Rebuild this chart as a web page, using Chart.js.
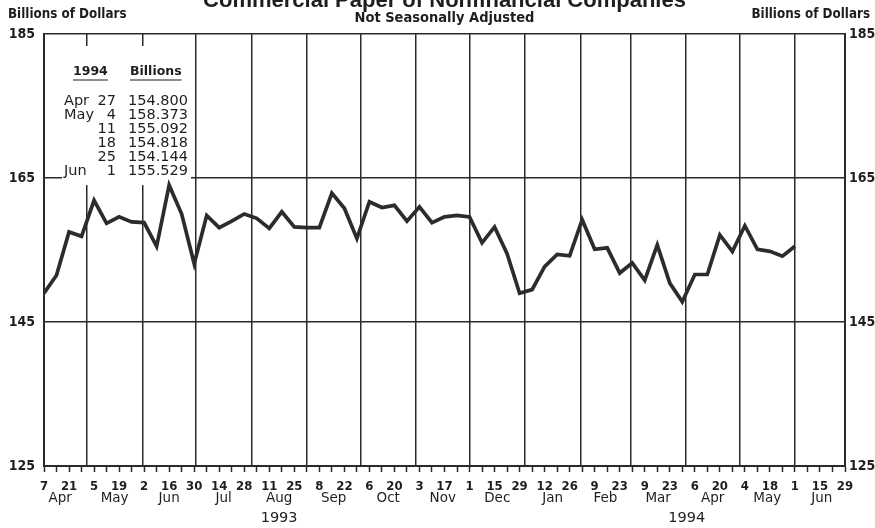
<!DOCTYPE html>
<html>
<head>
<meta charset="utf-8">
<script src="https://cdn.jsdelivr.net/npm/chart.js@4.4.1/dist/chart.umd.min.js"></script>
<style>
html,body{margin:0;padding:0;background:#ffffff;}
canvas{display:block;}
</style>
</head>
<body>
<canvas id="c" width="875" height="528"></canvas>
<script>
// ---------- DATA ----------
const titleText = 'Commercial Paper of Nonfinancial Companies';
const subtitleText = 'Not Seasonally Adjusted';
const unitText = 'Billions of Dollars';
const startYear = 1993, startMonth = 3, startDay = 7;   // first weekly observation: Wed Apr 7 1993
const weeksOnAxis = 64;                                   // axis runs to Jun 29 1994

// weekly values, billions of dollars (Apr 7 1993 ... Jun 1 1994)
const weeklyValues = [
  149.0, 151.5, 157.5, 156.9, 161.9, 158.7, 159.6, 158.9, 158.8, 155.5,
  164.0, 160.0, 153.1, 159.8, 158.1, 159.0, 160.0, 159.4, 158.0, 160.3,
  158.2, 158.1, 158.1, 162.9, 160.8, 156.6, 161.7, 160.9, 161.2, 159.0,
  161.0, 158.8, 159.6, 159.8, 159.6, 156.0, 158.2, 154.5, 149.0, 149.5,
  152.7, 154.4, 154.2, 159.2, 155.1, 155.3, 151.8, 153.2, 150.8, 155.7,
  150.4, 147.8, 151.6, 151.6, 157.1, 154.800, 158.373, 155.092, 154.818, 154.144,
  155.529
];

// labels on every second week tick
const dayTickLabels = ['7','21','5','19','2','16','30','14','28','11','25','8','22','6','20','3','17',
  '1','15','29','12','26','9','23','9','23','6','20','4','18','1','15','29'];
const monthLabels = ['Apr','May','Jun','Jul','Aug','Sep','Oct','Nov','Dec','Jan','Feb','Mar','Apr','May','Jun'];
const yearLabels = ['1993','1994'];
const yTickValues = [125, 145, 165, 185];

// inset table
const tableHeaders = ['1994', 'Billions'];
const tableMonths = ['Apr', 'May', '', '', '', 'Jun'];
const tableDays = ['27', '4', '11', '18', '25', '1'];
const tableValues = weeklyValues.slice(-6).map(v => v.toFixed(3));

// ---------- DERIVED ----------
const DAY = 86400000;
const t0 = Date.UTC(startYear, startMonth, startDay);
const dayOf = (y, m, d) => Math.round((Date.UTC(y, m, d) - t0) / DAY);
const xMax = weeksOnAxis * 7;

const monthStarts = [];
for (let k = 0; k <= monthLabels.length; k++) {
  const mm = startMonth + k;
  monthStarts.push(dayOf(startYear + Math.floor(mm / 12), mm % 12, 1));
}
const monthMids = monthLabels.map((_, k) => (monthStarts[k] + monthStarts[k + 1]) / 2);
const monthBoundaries = monthStarts.filter(d => d > 0 && d < xMax);
const boundarySet = new Set(monthBoundaries);
const yearMids = [
  (dayOf(1993, 3, 1) + dayOf(1994, 0, 1)) / 2,
  (dayOf(1994, 0, 1) + dayOf(1994, 6, 1)) / 2
];
const points = weeklyValues.map((v, i) => ({ x: i * 7, y: v }));

const weekTicks = [];
for (let w = 0; w <= weeksOnAxis; w++) weekTicks.push(w * 7);

// ---------- STYLE ----------
const INK = '#1e1e1e';
const GRID = '#2a2a2a';
const narrow = "'Liberation Sans Narrow','DejaVu Sans Condensed',sans-serif";
const round = "'DejaVu Sans',sans-serif";
const cond = "'DejaVu Sans Condensed','DejaVu Sans',sans-serif";

const insetPlugin = {
  id: 'inset',
  beforeDatasetsDraw(chart) {
    const c = chart.ctx;
    c.save();
    c.fillStyle = '#ffffff';
    c.fillRect(62, 46, 129, 139);
    c.fillStyle = INK;
    c.strokeStyle = INK;
    c.lineWidth = 1.2;
    c.textBaseline = 'middle';
    c.font = "bold 12.5px " + round;
    c.textAlign = 'left';
    c.fillText(tableHeaders[0], 73, 72);
    let w0 = c.measureText(tableHeaders[0]).width;
    c.beginPath(); c.moveTo(73, 80); c.lineTo(73 + w0, 80); c.stroke();
    c.fillText(tableHeaders[1], 130, 72);
    let w1 = c.measureText(tableHeaders[1]).width;
    c.beginPath(); c.moveTo(130, 80); c.lineTo(130 + w1, 80); c.stroke();
    c.font = "14.5px " + round;
    for (let r = 0; r < tableDays.length; r++) {
      const y = 101.5 + r * 14;
      c.textAlign = 'left';
      if (tableMonths[r]) c.fillText(tableMonths[r], 64, y);
      c.textAlign = 'right';
      c.fillText(tableDays[r], 116, y);
      c.fillText(tableValues[r], 188, y);
    }
    c.restore();
  },
  afterDraw(chart) {
    const c = chart.ctx;
    c.save();
    c.fillStyle = INK;
    c.textBaseline = 'middle';
    c.font = "bold 13.3px " + cond;
    c.textAlign = 'left';
    c.fillText(unitText, 8, 15);
    c.textAlign = 'right';
    c.fillText(unitText, 870, 15);
    c.restore();
  }
};

new Chart(document.getElementById('c'), {
  type: 'line',
  data: {
    datasets: [{
      data: points,
      xAxisID: 'x',
      yAxisID: 'y',
      borderColor: '#2c2c2c',
      borderWidth: 3.7,
      pointRadius: 0,
      tension: 0,
      fill: false
    }]
  },
  options: {
    responsive: false,
    animation: false,
    devicePixelRatio: 1,
    layout: { padding: 0 },
    plugins: {
      legend: { display: false },
      tooltip: { enabled: false },
      title: {
        display: true, text: titleText, color: INK, fullSize: false,
        font: { family: "'Liberation Sans',Arial,sans-serif", size: 22, weight: 'bold', lineHeight: 1 },
        padding: { top: -10, bottom: 0 }
      },
      subtitle: {
        display: true, text: subtitleText, color: INK, fullSize: false,
        font: { family: cond, size: 14.5, weight: 'bold', lineHeight: 1 },
        padding: { top: -1, bottom: 8.5 }
      }
    },
    scales: {
      x: {
        type: 'linear', position: 'bottom', min: 0, max: xMax, weight: 0,
        afterBuildTicks: s => { s.ticks = weekTicks.map(v => ({ value: v })); },
        afterFit: s => { s.height = 24; },
        ticks: {
          autoSkip: false, maxRotation: 0, color: INK, padding: 8,
          font: { family: narrow, size: 13, weight: 'bold', lineHeight: 1 },
          callback: (v, i) => (i % 2 === 0 ? dayTickLabels[i / 2] : '')
        },
        grid: { drawOnChartArea: false, drawTicks: true, tickLength: 6, color: GRID, tickColor: GRID, tickWidth: 1.5 },
        border: { display: true, color: GRID, width: 2 }
      },
      xm: {
        type: 'linear', position: 'bottom', min: 0, max: xMax, weight: 1,
        afterBuildTicks: s => {
          const t = monthBoundaries.map(v => ({ value: v }))
            .concat(monthMids.map(v => ({ value: Math.min(Math.max(v, 0), xMax) })));
          t.sort((a, b) => a.value - b.value);
          s.ticks = t;
        },
        afterFit: s => { s.height = 16; },
        ticks: {
          autoSkip: false, maxRotation: 0, color: INK, padding: 2,
          font: { family: round, size: 13.5, lineHeight: 1 },
          callback: (v) => {
            if (boundarySet.has(v)) return '';
            const k = monthMids.findIndex(m => Math.abs(Math.min(Math.max(m, 0), xMax) - v) < 1e-6);
            return k >= 0 ? monthLabels[k] : '';
          }
        },
        grid: {
          drawOnChartArea: true, drawTicks: false, lineWidth: 1.5,
          color: ctx => (ctx.tick && boundarySet.has(ctx.tick.value) ? GRID : 'rgba(0,0,0,0)')
        },
        border: { display: false }
      },
      xy: {
        type: 'linear', position: 'bottom', min: 0, max: xMax, weight: 2,
        afterBuildTicks: s => { s.ticks = yearMids.map(v => ({ value: v })); },
        afterFit: s => { s.height = 22; },
        ticks: {
          autoSkip: false, maxRotation: 0, color: INK, padding: 5,
          font: { family: round, size: 14.5, lineHeight: 1 },
          callback: (v, i) => yearLabels[i]
        },
        grid: { display: false, drawTicks: false },
        border: { display: false }
      },
      y: {
        type: 'linear', position: 'left', min: 125, max: 185,
        afterBuildTicks: s => { s.ticks = yTickValues.map(v => ({ value: v })); },
        afterFit: s => { s.width = 44; },
        ticks: { color: INK, padding: 9, font: { family: narrow, size: 14, weight: 'bold', lineHeight: 1 } },
        grid: { drawTicks: false, color: GRID, lineWidth: 1.6 },
        border: { display: true, color: GRID, width: 2 }
      },
      y2: {
        type: 'linear', position: 'right', min: 125, max: 185,
        afterBuildTicks: s => { s.ticks = yTickValues.map(v => ({ value: v })); },
        afterFit: s => { s.width = 30; },
        ticks: { color: INK, padding: 4, font: { family: narrow, size: 14, weight: 'bold', lineHeight: 1 } },
        grid: { drawOnChartArea: false, drawTicks: false },
        border: { display: true, color: GRID, width: 2 }
      }
    }
  },
  plugins: [insetPlugin]
});
</script>
</body>
</html>
